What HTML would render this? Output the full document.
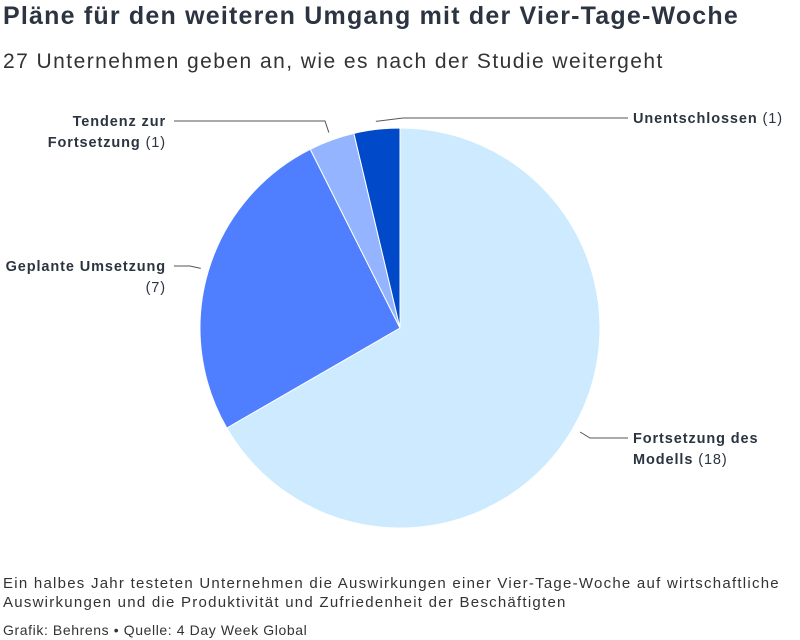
<!DOCTYPE html>
<html><head><meta charset="utf-8"><style>
body{margin:0;width:800px;height:640px;background:#fff;font-family:"Liberation Sans",sans-serif;color:#333;overflow:hidden;position:relative}
.t{position:absolute;left:3px;top:2px;font-size:25px;font-weight:bold;color:#2b3440;letter-spacing:1.2px}
.s{position:absolute;left:3px;top:50px;font-size:21px;color:#333;letter-spacing:1.45px}
.f{position:absolute;left:3px;font-size:15px;color:#333;line-height:19px;letter-spacing:1.25px}
svg text{font-family:"Liberation Sans",sans-serif;font-size:14.5px;fill:#2b3440;letter-spacing:0.9px}
</style></head><body>
<div class="t">Pläne für den weiteren Umgang mit der Vier-Tage-Woche</div>
<div class="s">27 Unternehmen geben an, wie es nach der Studie weitergeht</div>
<svg id="c" width="800" height="640" style="position:absolute;left:0;top:0"></svg>
<div class="f" style="top:574px;white-space:nowrap">Ein halbes Jahr testeten Unternehmen die Auswirkungen einer Vier-Tage-Woche auf wirtschaftliche<br>Auswirkungen und die Produktivität und Zufriedenheit der Beschäftigten</div>
<div class="f" style="top:621px;font-size:14px;letter-spacing:0.6px">Grafik: Behrens • Quelle: 4 Day Week Global</div>
<script>
const categories=["Fortsetzung des Modells","Geplante Umsetzung","Tendenz zur Fortsetzung","Unentschlossen"];
const values=[18,7,1,1];
const colors=["#cdeafe","#4f7eff","#94b4ff","#0049c8"];
const svg=document.getElementById('c');const NS="http://www.w3.org/2000/svg";
const cx=400,cy=328,r=200;
const total=values.reduce((a,b)=>a+b,0);
function pt(a,rr){return [cx+rr*Math.sin(a),cy-rr*Math.cos(a)];}
let a0=0;const mids=[];
values.forEach((v,i)=>{
 const a1=a0+v/total*2*Math.PI;
 const p0=pt(a0,r),p1=pt(a1,r);
 const p=document.createElementNS(NS,'path');
 p.setAttribute('d',`M${cx},${cy}L${p0[0]},${p0[1]}A${r},${r} 0 ${a1-a0>Math.PI?1:0} 1 ${p1[0]},${p1[1]}Z`);
 p.setAttribute('fill',colors[i]);p.setAttribute('stroke','#fff');p.setAttribute('stroke-width','1');
 
 
 svg.appendChild(p);mids.push((a0+a1)/2);a0=a1;
});
const labs=[
 {l:["Fortsetzung des","Modells"],anchor:"start",x:633,y:443,ex:590,lx:628},
 {l:["Geplante Umsetzung",""],anchor:"end",x:166,y:271,ex:190,lx:174},
 {l:["Tendenz zur","Fortsetzung"],anchor:"end",x:166,y:126,ex:325,lx:174},
 {l:["Unentschlossen"],anchor:"start",x:633,y:123,ex:403,lx:628}
];
labs.forEach((L,i)=>{
 const e=pt(mids[i],r+8);
 const ly=L.y-5;
 const pl=document.createElementNS(NS,'polyline');
 pl.setAttribute('points',`${e[0]},${e[1]} ${L.ex},${ly} ${L.lx},${ly}`);
 pl.setAttribute('fill','none');pl.setAttribute('stroke','#555');pl.setAttribute('stroke-width','1');
 
 
 svg.appendChild(pl);
 const t=document.createElementNS(NS,'text');
 t.setAttribute('text-anchor',L.anchor);
 
 
 L.l.forEach((s,j)=>{
  const ts=document.createElementNS(NS,'tspan');
  ts.setAttribute('x',L.x);ts.setAttribute('y',L.y+j*21);
  const b=document.createElementNS(NS,'tspan');b.setAttribute('font-weight','bold');b.textContent=s;
  ts.appendChild(b);
  if(j===L.l.length-1){const n=document.createElementNS(NS,'tspan');n.textContent=(s?" ":"")+"("+values[i]+")";ts.appendChild(n);}
  t.appendChild(ts);
 });
 svg.appendChild(t);
});
</script>
</body></html>
